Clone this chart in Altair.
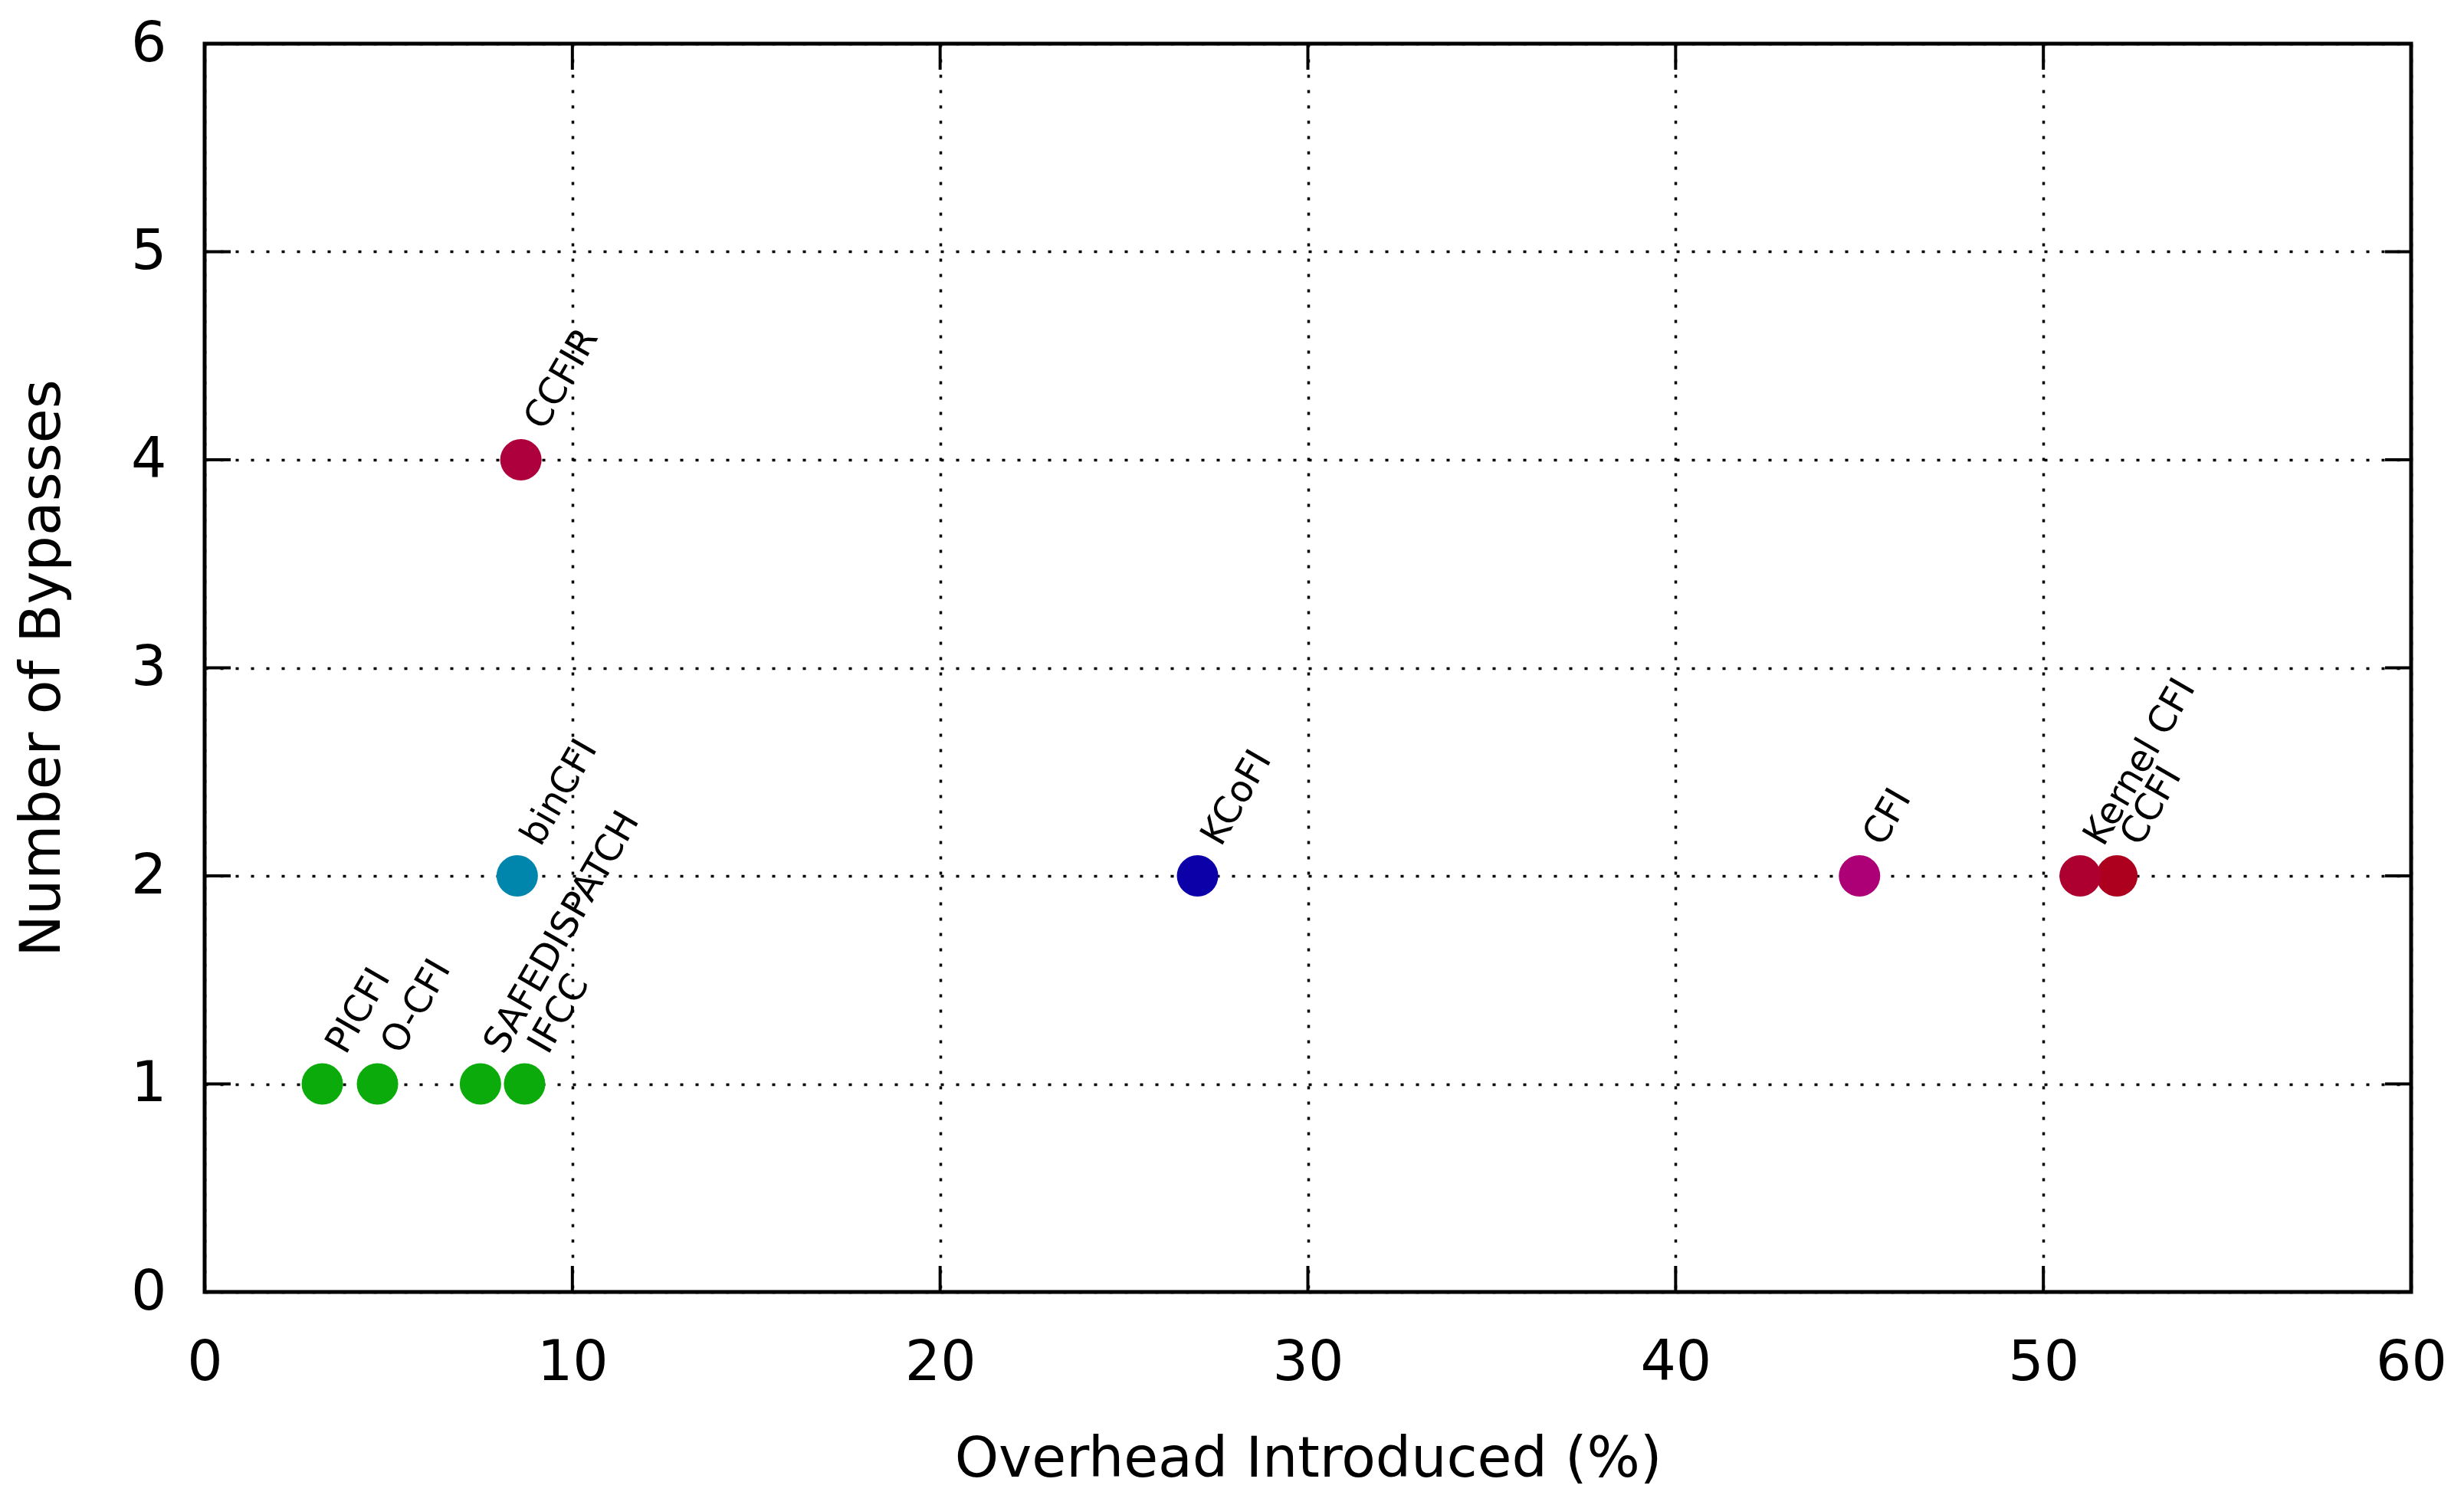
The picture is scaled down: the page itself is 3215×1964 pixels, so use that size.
import altair as alt
import pandas as pd

# ---- data ----
names = ["PICFI", "O-CFI", "IFCC", "SAFEDISPATCH", "binCFI", "CCFIR",
         "KCoFI", "CFI", "CCFI", "Kernel CFI"]
overhead = [3.2, 4.7, 8.7, 7.5, 8.5, 8.6, 27.0, 45.0, 52.0, 51.0]
bypasses = [1, 1, 1, 1, 2, 4, 2, 2, 2, 2]
colors = ["#0aab0a", "#0aab0a", "#0aab0a", "#0aab0a", "#0086ac", "#ad003c",
          "#0c00a9", "#ad0077", "#ad001e", "#ad0030"]

x_ticks = [0, 10, 20, 30, 40, 50, 60]
y_ticks = [0, 1, 2, 3, 4, 5, 6]

W, H = 2879, 1629
FONT = "DejaVu Sans"
TICK = 34

df = pd.DataFrame({"name": names, "overhead": overhead,
                   "bypasses": bypasses, "color": colors})
xt = pd.DataFrame({"overhead": x_ticks})
yt = pd.DataFrame({"bypasses": y_ticks})

grid_kw = dict(grid=True, gridColor="black", gridDash=[4, 16],
               gridWidth=3.5, gridOpacity=1)

x_enc = alt.X(
    "overhead:Q",
    scale=alt.Scale(domain=[0, 60], nice=False, zero=False),
    axis=alt.Axis(
        values=x_ticks, title="Overhead Introduced (%)",
        labelFont=FONT, labelFontSize=73, labelColor="black",
        labelPadding=114, labelBaseline="alphabetic", labelFlush=False,
        labelOverlap=False, ticks=False, tickSize=0, domain=False,
        titleFont=FONT, titleFontSize=73, titleFontWeight="normal",
        titleColor="black", titleBaseline="alphabetic",
        titleX=W / 2, titleY=240, titleAlign="center",
        **grid_kw),
)
y_enc = alt.Y(
    "bypasses:Q",
    scale=alt.Scale(domain=[0, 6], nice=False, zero=False),
    axis=alt.Axis(
        values=y_ticks, title="Number of Bypasses",
        labelFont=FONT, labelFontSize=73, labelColor="black",
        labelPadding=50, labelFlush=False, labelOverlap=False,
        ticks=False, tickSize=0, domain=False,
        titleFont=FONT, titleFontSize=73, titleFontWeight="normal",
        titleColor="black", titleBaseline="alphabetic", titleAngle=270,
        titleX=-190, titleY=H / 2, titleAlign="center",
        **grid_kw),
)

tick_style = dict(color="black", strokeWidth=4)

bottom_ticks = alt.Chart(xt).mark_rule(**tick_style).encode(
    x=x_enc, y=alt.value(H), y2=alt.value(H - TICK))
top_ticks = alt.Chart(xt).mark_rule(**tick_style).encode(
    x=x_enc, y=alt.value(0), y2=alt.value(TICK))
left_ticks = alt.Chart(yt).mark_rule(**tick_style).encode(
    y=y_enc, x=alt.value(0), x2=alt.value(TICK))
right_ticks = alt.Chart(yt).mark_rule(**tick_style).encode(
    y=y_enc, x=alt.value(W), x2=alt.value(W - TICK))

points = alt.Chart(df).mark_circle(size=2920, opacity=1).encode(
    x=x_enc, y=y_enc, color=alt.Color("color:N", scale=None))

labels = alt.Chart(df).mark_text(
    angle=300, align="left", baseline="alphabetic", dx=47, dy=8,
    font=FONT, fontSize=48, color="black").encode(
    x=x_enc, y=y_enc, text="name:N")

chart = alt.layer(
    bottom_ticks, top_ticks, left_ticks, right_ticks, points, labels
).properties(
    width=W, height=H,
    autosize=alt.AutoSizeParams(type="none"),
    padding={"left": 259, "top": 49, "right": 50, "bottom": 272},
    background="white",
).configure_view(
    stroke="black", strokeWidth=5, fill="white"
)

chart.save("out.html", embed_options={"renderer": "svg", "actions": False})
